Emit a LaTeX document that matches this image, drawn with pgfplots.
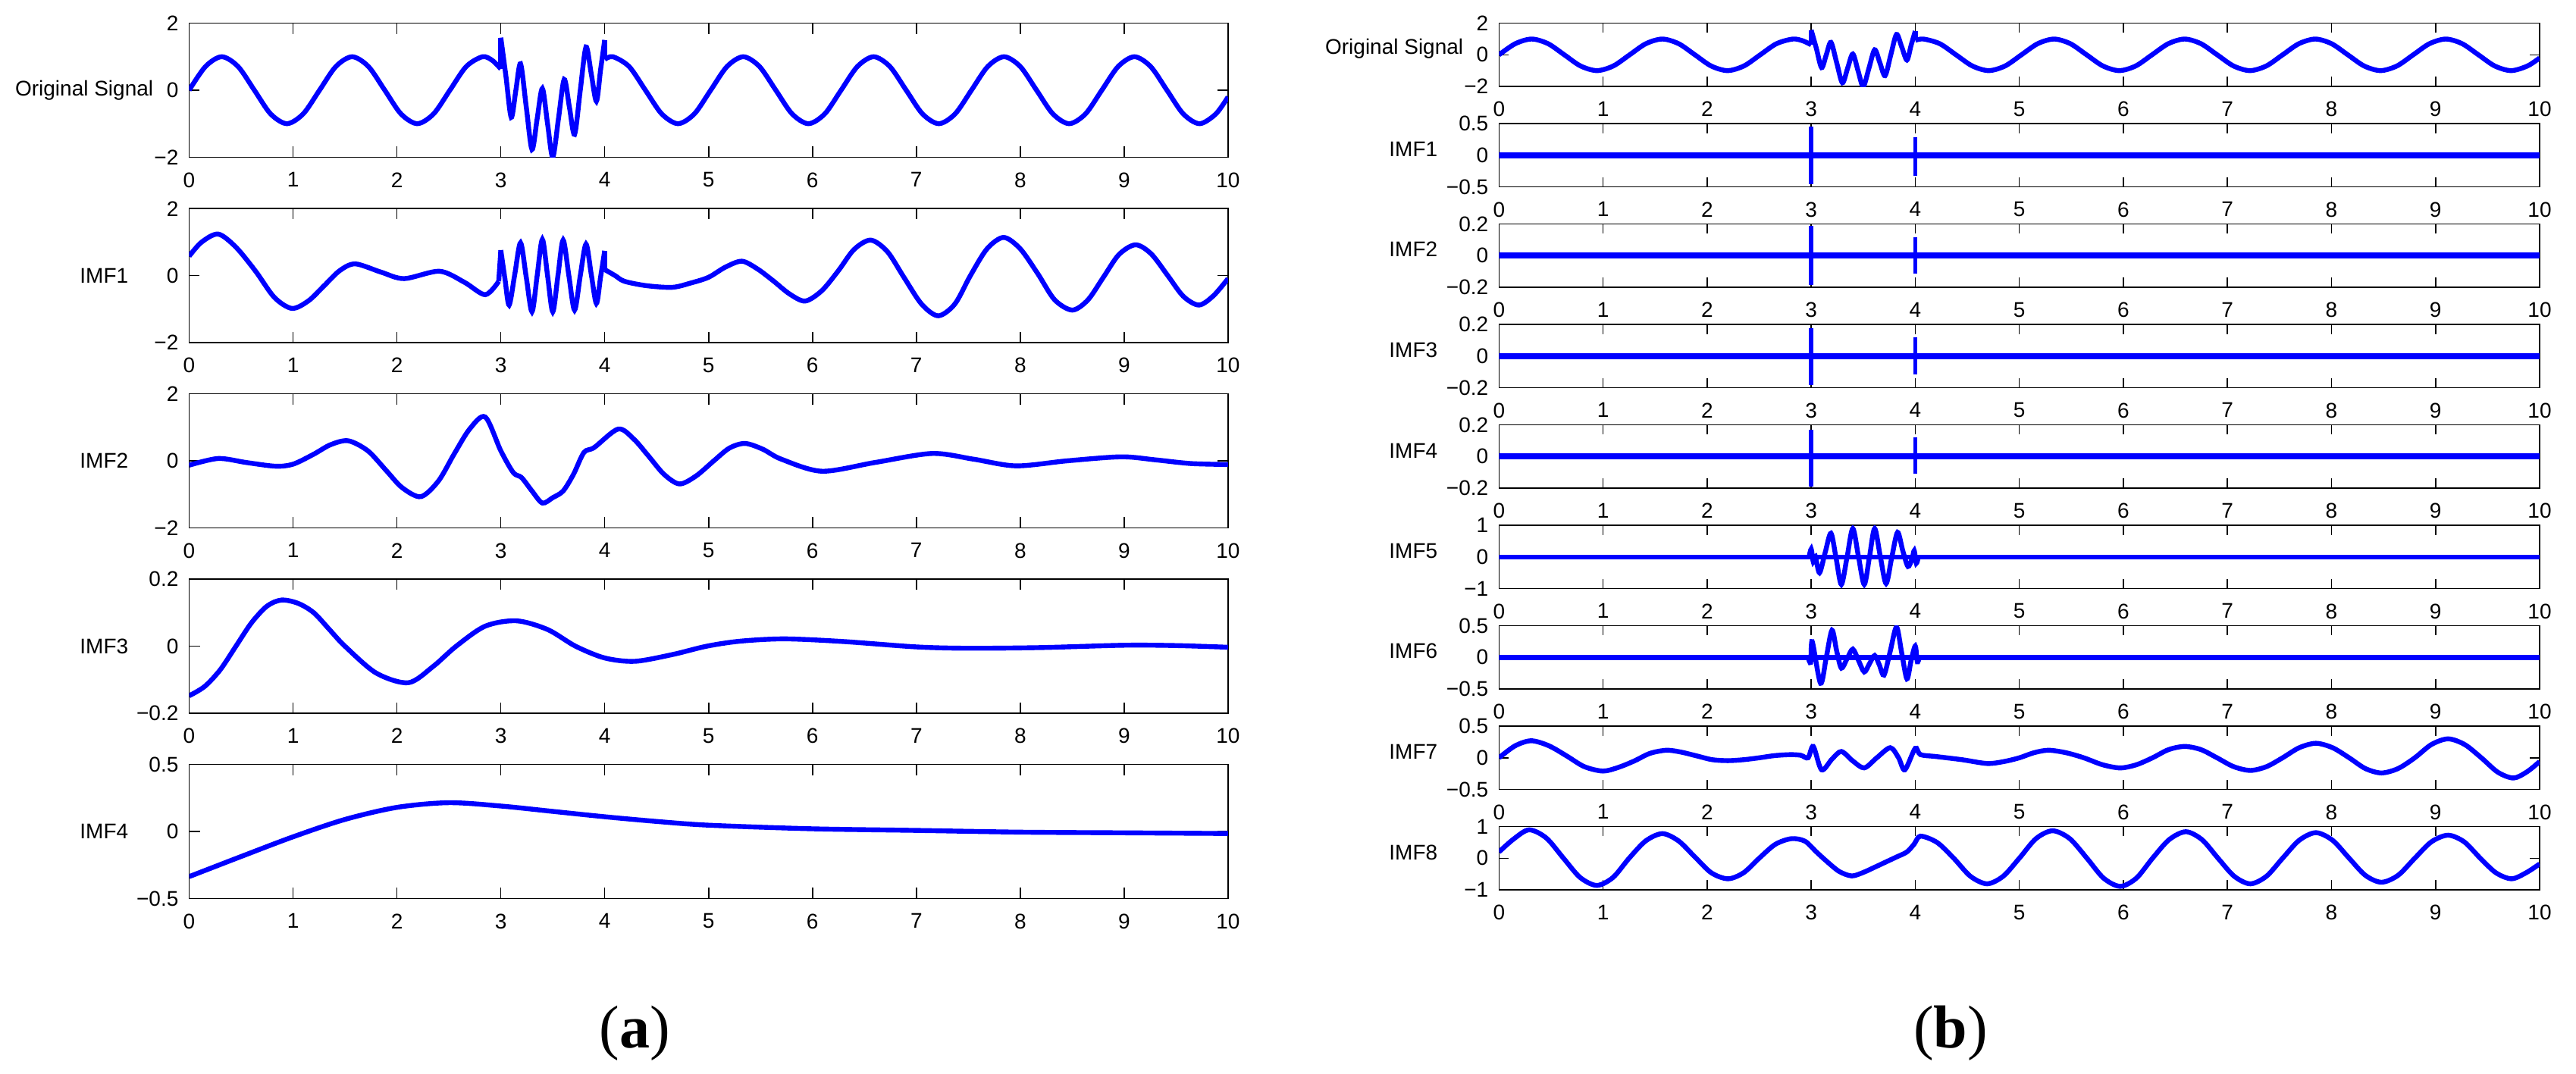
\documentclass[border=0pt]{standalone}
\usepackage{fontspec}
\setmainfont{Liberation Sans}
\newfontfamily\seriffont{Liberation Serif}
\usepackage{pgfplots}
\usepackage{pgfplotstable}
\pgfplotsset{compat=1.18}

\pgfplotstableread{
x y
0 0
0.157 0.707
0.314 1
0.471 0.707
0.628 0
0.784 -0.707
0.941 -1
1.098 -0.707
1.255 0
1.412 0.707
1.569 1
1.726 0.707
1.883 0
2.039 -0.707
2.196 -1
2.353 -0.707
2.51 0
2.667 0.707
2.824 1
2.92 0.886
3.0 0.636
}\origA
\pgfplotstableread{
x y
3.0 1.57
3.05 0.4
3.10 -0.81
3.145 0.0
3.19 0.79
3.245 -0.5
3.30 -1.77
3.35 -0.85
3.40 0.05
3.45 -1.0
3.50 -2.0
3.555 -0.85
3.61 0.32
3.66 -0.5
3.71 -1.32
3.765 0.0
3.82 1.29
3.87 0.5
3.92 -0.33
3.96 0.6
4.0 1.5
}\origB
\pgfplotstableread{
x y
4.0 0.92
4.079 1
4.235 0.707
4.392 0
4.549 -0.707
4.706 -1
4.863 -0.707
5.02 0
5.177 0.707
5.334 1
5.49 0.707
5.647 0
5.804 -0.707
5.961 -1
6.118 -0.707
6.275 0
6.432 0.707
6.589 1
6.745 0.707
6.902 0
7.059 -0.707
7.216 -1
7.373 -0.707
7.53 0
7.687 0.707
7.844 1
8.0 0.707
8.157 0
8.314 -0.707
8.471 -1
8.628 -0.707
8.785 0
8.942 0.707
9.099 1
9.255 0.707
9.412 0
9.569 -0.707
9.726 -1
9.883 -0.707
10 -0.2
}\origC

\pgfplotsset{
  emd/.style={scale only axis, anchor=north west, xmin=0, xmax=10,
    xtick={0,1,2,3,4,5,6,7,8,9,10},
    xticklabels={0,1,2,3,4,5,6,7,8,9,10},
    tick align=inside, xtick pos=both, ytick pos=both,
    axis line style={black, line width=0.4pt},
    major tick style={black, line width=0.4pt},
    tick label style={font=\fontsize{7}{8}\selectfont},
    xticklabel style={yshift=-1.5pt},
    clip mode=individual},
  lft/.style={emd, width=342.6pt, height=44.17pt, major tick length=3.5pt},
  rgt/.style={emd, width=343.17pt, height=20.83pt, major tick length=3.2pt},
  sig/.style={color={rgb,255:red,0;green,0;blue,255}, line width=1.6pt, no markers},
}

\begin{document}
\begin{tikzpicture}
\path[use as bounding box] (0,0) rectangle (849.5pt,354pt);

% ---------------- Panel (a) ----------------
\begin{axis}[lft, at={(62.375pt,346.33pt)}, ymin=-2, ymax=2, ytick={-2,0,2}, yticklabels={−2,0,2}]
\addplot[sig, smooth] table {\origA};
\addplot[sig] coordinates {(3.0,0.636) (3.0,1.57)};
\addplot[sig, smooth] table {\origB};
\addplot[sig] coordinates {(4.0,1.5) (4.0,0.92)};
\addplot[sig, smooth] table {\origC};
\end{axis}

\begin{axis}[lft, at={(62.375pt,285.18pt)}, ymin=-2, ymax=2, ytick={-2,0,2}, yticklabels={−2,0,2}]
\addplot[sig, smooth] coordinates {(0,0.58) (0.12,1.0) (0.28,1.24) (0.45,0.85) (0.64,0.13) (0.82,-0.65) (0.99,-0.98) (1.15,-0.75) (1.3,-0.3) (1.45,0.15) (1.6,0.35) (1.85,0.1) (2.07,-0.09) (2.41,0.13) (2.65,-0.2) (2.85,-0.57) (2.98,-0.17)};
\addplot[sig] coordinates {(2.98,-0.17) (3.0,0.76)};
\addplot[sig, smooth] coordinates {(3.0,0.76) (3.04,-0.1) (3.08,-0.88) (3.135,0.05) (3.19,0.98) (3.245,-0.05) (3.30,-1.08) (3.35,0) (3.40,1.08) (3.45,0) (3.50,-1.08) (3.55,0) (3.60,1.06) (3.655,0) (3.71,-1.03) (3.765,0) (3.82,0.94) (3.87,0.05) (3.92,-0.83) (3.96,-0.05) (4.0,0.74)};
\addplot[sig] coordinates {(4.0,0.74) (4.0,0.18)};
\addplot[sig, smooth] coordinates {(4.0,0.18) (4.1,0.0) (4.19,-0.17) (4.4,-0.3) (4.65,-0.35) (4.83,-0.22) (5.0,-0.05) (5.16,0.25) (5.32,0.43) (5.47,0.2) (5.62,-0.15) (5.78,-0.55) (5.93,-0.76) (6.09,-0.45) (6.25,0.15) (6.4,0.78) (6.56,1.06) (6.72,0.72) (6.88,-0.05) (7.05,-0.85) (7.21,-1.2) (7.37,-0.85) (7.52,0.0) (7.68,0.8) (7.84,1.14) (8.0,0.8) (8.17,0.05) (8.33,-0.72) (8.5,-1.03) (8.65,-0.73) (8.8,-0.05) (8.95,0.63) (9.11,0.92) (9.26,0.65) (9.42,0.0) (9.57,-0.62) (9.72,-0.88) (9.86,-0.6) (10,-0.09)};
\end{axis}

\begin{axis}[lft, at={(62.375pt,224.08pt)}, ymin=-2, ymax=2, ytick={-2,0,2}, yticklabels={−2,0,2}]
\addplot[sig, smooth] coordinates {(0,-0.13) (0.28,0.07) (0.55,-0.05) (0.83,-0.16) (1.0,-0.1) (1.2,0.2) (1.36,0.48) (1.53,0.6) (1.72,0.3) (1.9,-0.3) (2.05,-0.8) (2.23,-1.07) (2.4,-0.6) (2.55,0.2) (2.7,0.95) (2.85,1.31) (3.0,0.3) (3.12,-0.35) (3.2,-0.5) (3.3,-0.9) (3.4,-1.26) (3.5,-1.1) (3.6,-0.9) (3.7,-0.4) (3.8,0.25) (3.9,0.4) (4.13,0.95) (4.28,0.65) (4.42,0.15) (4.57,-0.4) (4.72,-0.69) (4.88,-0.45) (5.05,0.0) (5.2,0.38) (5.35,0.52) (5.52,0.35) (5.7,0.05) (6.09,-0.31) (6.6,-0.05) (7.15,0.22) (7.55,0.05) (7.96,-0.15) (8.45,0.0) (8.97,0.12) (9.3,0.03) (9.64,-0.08) (10,-0.11)};
\end{axis}

\begin{axis}[lft, at={(62.375pt,162.93pt)}, ymin=-0.2, ymax=0.2, ytick={-0.2,0,0.2}, yticklabels={−0.2,0,0.2}]
\addplot[sig, smooth] coordinates {(0,-0.148) (0.15,-0.12) (0.3,-0.07) (0.45,0.0) (0.6,0.07) (0.75,0.12) (0.89,0.138) (1.05,0.128) (1.2,0.1) (1.35,0.05) (1.5,0.0) (1.8,-0.08) (2.11,-0.109) (2.35,-0.06) (2.57,0.0) (2.85,0.06) (3.15,0.076) (3.45,0.05) (3.72,0.0) (4.0,-0.035) (4.29,-0.045) (4.65,-0.025) (4.98,0.0) (5.3,0.015) (5.73,0.022) (6.3,0.014) (7.0,-0.002) (7.5,-0.006) (8.2,-0.004) (9.0,0.003) (9.5,0.002) (10,-0.003)};
\end{axis}

\begin{axis}[lft, at={(62.375pt,101.83pt)}, ymin=-0.5, ymax=0.5, ytick={-0.5,0,0.5}, yticklabels={−0.5,0,0.5}]
\addplot[sig, smooth] coordinates {(0,-0.337) (0.5,-0.187) (1,-0.04) (1.5,0.09) (2,0.18) (2.5,0.215) (3,0.19) (3.5,0.15) (4,0.11) (4.5,0.075) (5,0.047) (6,0.02) (7,0.008) (8,-0.005) (9,-0.01) (10,-0.015)};
\end{axis}

% ---------------- Panel (b) ----------------
\begin{axis}[rgt, at={(494.33pt,346.33pt)}, ymin=-2, ymax=2, ytick={-2,0,2}, yticklabels={−2,0,2}]
\addplot[sig, smooth] table {\origA};
\addplot[sig] coordinates {(3.0,0.636) (3.0,1.57)};
\addplot[sig, smooth] table {\origB};
\addplot[sig] coordinates {(4.0,1.5) (4.0,0.92)};
\addplot[sig, smooth] table {\origC};
\end{axis}

\begin{axis}[rgt, at={(494.33pt,313.2pt)}, ymin=-0.5, ymax=0.5, ytick={-0.5,0,0.5}, yticklabels={−0.5,0,0.5}]
\addplot[sig, line width=2.0pt] coordinates {(0,0) (10,0)};
\addplot[sig, line width=1.4pt] coordinates {(3.0,-0.46) (3.0,0.46)};
\addplot[sig, line width=1.4pt] coordinates {(4.0,-0.33) (4.0,0.29)};
\end{axis}

\begin{axis}[rgt, at={(494.33pt,280.08pt)}, ymin=-0.2, ymax=0.2, ytick={-0.2,0,0.2}, yticklabels={−0.2,0,0.2}]
\addplot[sig, line width=2.0pt] coordinates {(0,0) (10,0)};
\addplot[sig, line width=1.4pt] coordinates {(3.0,-0.187) (3.0,0.187)};
\addplot[sig, line width=1.4pt] coordinates {(4.0,-0.114) (4.0,0.118)};
\end{axis}

\begin{axis}[rgt, at={(494.33pt,246.96pt)}, ymin=-0.2, ymax=0.2, ytick={-0.2,0,0.2}, yticklabels={−0.2,0,0.2}]
\addplot[sig, line width=2.0pt] coordinates {(0,0) (10,0)};
\addplot[sig, line width=1.4pt] coordinates {(3.0,-0.185) (3.0,0.178)};
\addplot[sig, line width=1.4pt] coordinates {(4.0,-0.116) (4.0,0.118)};
\end{axis}

\begin{axis}[rgt, at={(494.33pt,213.83pt)}, ymin=-0.2, ymax=0.2, ytick={-0.2,0,0.2}, yticklabels={−0.2,0,0.2}]
\addplot[sig, line width=2.0pt] coordinates {(0,0) (10,0)};
\addplot[sig, line width=1.4pt] coordinates {(3.0,-0.189) (3.0,0.172)};
\addplot[sig, line width=1.4pt] coordinates {(4.0,-0.11) (4.0,0.12)};
\end{axis}

\begin{axis}[rgt, at={(494.33pt,180.7pt)}, ymin=-1, ymax=1, ytick={-1,0,1}, yticklabels={−1,0,1}]
\addplot[sig] coordinates {(0,0) (10,0)};
\addplot[sig, smooth] coordinates {(2.98,0) (3.0,0.25) (3.02,-0.15) (3.04,0.02) (3.08,-0.5) (3.135,0.15) (3.19,0.75) (3.24,-0.05) (3.29,-0.87) (3.345,0.0) (3.40,0.9) (3.455,0.0) (3.51,-0.87) (3.56,0.0) (3.61,0.9) (3.665,0.0) (3.72,-0.84) (3.775,0.0) (3.83,0.78) (3.88,0.2) (3.93,-0.3) (3.97,-0.05) (3.99,0.2) (4.01,-0.2) (4.03,0)};
\end{axis}

\begin{axis}[rgt, at={(494.33pt,147.58pt)}, ymin=-0.5, ymax=0.5, ytick={-0.5,0,0.5}, yticklabels={−0.5,0,0.5}]
\addplot[sig] coordinates {(0,0) (10,0)};
\addplot[sig, smooth] coordinates {(2.97,0) (2.995,-0.08) (3.01,0.25) (3.09,-0.41) (3.145,0.0) (3.20,0.43) (3.245,0.1) (3.29,-0.17) (3.345,-0.02) (3.40,0.13) (3.455,-0.05) (3.51,-0.23) (3.56,-0.1) (3.61,0.03) (3.655,-0.12) (3.70,-0.28) (3.76,0.1) (3.82,0.48) (3.87,0.07) (3.92,-0.34) (3.96,-0.05) (4.0,0.18) (4.02,-0.07) (4.04,0)};
\end{axis}

\begin{axis}[rgt, at={(494.33pt,114.46pt)}, ymin=-0.5, ymax=0.5, ytick={-0.5,0,0.5}, yticklabels={−0.5,0,0.5}]
\addplot[sig, smooth] coordinates {(0,0) (0.155,0.19) (0.31,0.27) (0.48,0.19) (0.65,0.03) (0.82,-0.14) (1.0,-0.21) (1.15,-0.15) (1.3,-0.05) (1.45,0.07) (1.61,0.12) (1.75,0.09) (1.9,0.03) (2.05,-0.03) (2.2,-0.045) (2.35,-0.03) (2.5,0.0) (2.65,0.035) (2.8,0.05) (2.9,0.04) (2.97,0.0) (3.02,0.18) (3.1,-0.19) (3.2,-0.02) (3.29,0.1) (3.4,-0.05) (3.51,-0.16) (3.63,0.0) (3.76,0.16) (3.84,0.0) (3.9,-0.19) (4.0,0.15) (4.05,0.05) (4.2,0.02) (4.45,-0.03) (4.69,-0.09) (4.85,-0.06) (5.0,0.0) (5.14,0.08) (5.28,0.12) (5.45,0.08) (5.62,0.0) (5.8,-0.11) (5.97,-0.16) (6.125,-0.11) (6.28,0.0) (6.435,0.13) (6.59,0.18) (6.745,0.13) (6.9,0.0) (7.06,-0.14) (7.22,-0.2) (7.375,-0.14) (7.53,0.0) (7.69,0.16) (7.85,0.23) (8.01,0.16) (8.17,0.0) (8.325,-0.17) (8.48,-0.24) (8.64,-0.17) (8.8,0.0) (8.96,0.21) (9.12,0.3) (9.28,0.21) (9.44,0.0) (9.6,-0.23) (9.75,-0.32) (9.88,-0.22) (10,-0.06)};
\end{axis}

\begin{axis}[rgt, at={(494.33pt,81.33pt)}, ymin=-1, ymax=1, ytick={-1,0,1}, yticklabels={−1,0,1}]
\addplot[sig, smooth] coordinates {(0,0.2) (0.145,0.62) (0.29,0.9) (0.455,0.64) (0.62,0.0) (0.78,-0.61) (0.94,-0.86) (1.095,-0.61) (1.25,0.0) (1.41,0.55) (1.57,0.78) (1.725,0.55) (1.88,0.05) (2.04,-0.46) (2.2,-0.65) (2.35,-0.46) (2.5,0.0) (2.655,0.44) (2.81,0.62) (2.94,0.54) (3.05,0.2) (3.15,-0.1) (3.27,-0.42) (3.39,-0.56) (3.5,-0.45) (3.6,-0.3) (3.71,-0.13) (3.82,0.04) (3.92,0.2) (3.99,0.45) (4.05,0.7) (4.21,0.5) (4.37,0.0) (4.53,-0.57) (4.69,-0.81) (4.845,-0.57) (5.0,0.0) (5.16,0.62) (5.32,0.87) (5.485,0.62) (5.65,0.0) (5.81,-0.63) (5.97,-0.89) (6.125,-0.63) (6.28,0.0) (6.44,0.59) (6.6,0.84) (6.755,0.59) (6.91,0.0) (7.065,-0.57) (7.22,-0.81) (7.375,-0.57) (7.53,0.0) (7.69,0.57) (7.85,0.81) (8.01,0.57) (8.17,0.0) (8.325,-0.54) (8.48,-0.76) (8.64,-0.54) (8.8,0.0) (8.96,0.52) (9.12,0.73) (9.275,0.52) (9.43,0.0) (9.58,-0.46) (9.73,-0.65) (9.87,-0.46) (10,-0.18)};
\end{axis}

% ---------------- labels ----------------
\begin{scope}[every node/.style={font=\fontsize{7}{8}\selectfont, inner sep=0pt}]
\node[anchor=east] at (50.75pt,324.25pt) {Original Signal};
\node[anchor=east] at (42.5pt,263.1pt) {IMF1};
\node[anchor=east] at (42.5pt,202.0pt) {IMF2};
\node[anchor=east] at (42.5pt,140.85pt) {IMF3};
\node[anchor=east] at (42.5pt,79.75pt) {IMF4};
\node[anchor=east] at (482.75pt,337.9pt) {Original Signal};
\node[anchor=east] at (474.25pt,304.8pt) {IMF1};
\node[anchor=east] at (474.25pt,271.7pt) {IMF2};
\node[anchor=east] at (474.25pt,238.5pt) {IMF3};
\node[anchor=east] at (474.25pt,205.4pt) {IMF4};
\node[anchor=east] at (474.25pt,172.3pt) {IMF5};
\node[anchor=east] at (474.25pt,139.2pt) {IMF6};
\node[anchor=east] at (474.25pt,106.1pt) {IMF7};
\node[anchor=east] at (474.25pt,72.9pt) {IMF8};
\end{scope}
\node[font=\fontsize{20}{24}\selectfont\seriffont] at (209.25pt,13.25pt) {(\textbf{a})};
\node[font=\fontsize{20}{24}\selectfont\seriffont] at (643.25pt,13.25pt) {(\textbf{b})};
\end{tikzpicture}
\end{document}
